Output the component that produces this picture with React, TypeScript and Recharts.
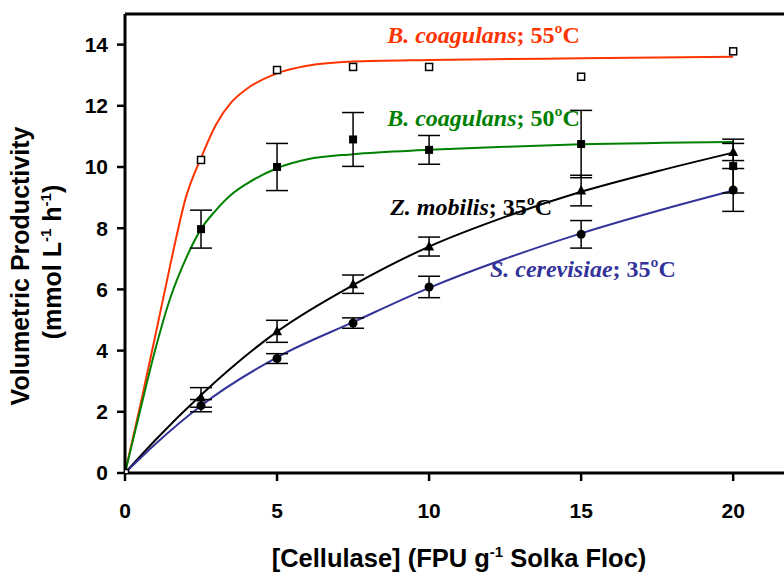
import React from 'react';
import { ComposedChart, Line, Scatter, XAxis, YAxis, ErrorBar, ReferenceLine, ReferenceDot } from 'recharts';

// Measured points
const xPoints = [0, 2.5, 5, 7.5, 10, 15, 20];
const bc55 = [0, 10.23, 13.17, 13.27, 13.27, 12.95, 13.78];
const bc50 = [0, 7.97, 10.0, 10.9, 10.56, 10.75, 10.03];
const bc50Err = [0, 0.62, 0.77, 0.88, 0.47, 1.1, 0.88];
const zm = [0, 2.47, 4.63, 6.17, 7.4, 9.23, 10.49];
const zmErr = [0, 0.32, 0.36, 0.3, 0.31, 0.5, 0.28];
const sc = [0, 2.2, 3.74, 4.9, 6.08, 7.8, 9.25];
const scErr = [0, 0.2, 0.16, 0.17, 0.35, 0.45, 0.7];

// Fitted curves
const fit55X = [0, 0.5, 1, 1.5, 2, 2.5, 3, 3.5, 4, 5, 6, 7.5, 10, 15, 20];
const fit55Y = [0, 2.2, 4.5, 6.85, 9.0, 10.3, 11.4, 12.12, 12.55, 13.06, 13.31, 13.45, 13.5, 13.55, 13.6];
const fit50X = [0, 0.5, 1, 1.5, 2, 2.5, 3, 3.5, 4, 5, 6, 7.5, 10, 12.5, 15, 20];
const fit50Y = [0, 2.05, 4.05, 5.75, 7.0, 7.97, 8.6, 9.1, 9.45, 9.96, 10.25, 10.42, 10.56, 10.66, 10.74, 10.82];
const fitZmX = [0, 1, 2.5, 5, 7.5, 10, 12.5, 15, 17.5, 20];
const fitZmY = [0, 1.08, 2.55, 4.62, 6.14, 7.4, 8.37, 9.19, 9.86, 10.47];
const fitScX = [0, 1, 2.5, 5, 7.5, 10, 12.5, 15, 17.5, 20];
const fitScY = [0, 0.95, 2.2, 3.78, 4.93, 6.05, 7.0, 7.83, 8.56, 9.23];

const xTicks = [0, 5, 10, 15, 20];
const yTicks = [0, 2, 4, 6, 8, 10, 12, 14];

const RED = '#FF3300';
const GREEN = '#008000';
const BLUE = '#333399';
const BLACK = '#000000';

const seriesLabels = [
  { x: 8.62, y: 14.04, italic: 'B. coagulans', rest: '; 55ºC', color: RED },
  { x: 8.62, y: 11.34, italic: 'B. coagulans', rest: '; 50ºC', color: GREEN },
  { x: 8.72, y: 8.43, italic: 'Z. mobilis', rest: '; 35ºC', color: BLACK },
  { x: 12.0, y: 6.4, italic: 'S. cerevisiae', rest: '; 35ºC', color: BLUE },
];

const pts = (ys: number[], errs?: number[]) =>
  xPoints.map((x, i) => ({ x, y: ys[i], err: errs ? errs[i] : 0 }));
const curve = (xs: number[], ys: number[]) => xs.map((x, i) => ({ x, y: ys[i] }));

const SANS = '"Liberation Sans", Arial, sans-serif';
const SERIF = '"Liberation Serif", "Times New Roman", serif';

const OpenSquare = (p: any) => (
  <rect x={p.cx - 3.5} y={p.cy - 3.5} width={7} height={7} fill="#fff" stroke="#000" strokeWidth={1.5} />
);
const FilledSquare = (p: any) => (
  <rect x={p.cx - 4} y={p.cy - 4} width={8} height={8} fill="#000" />
);
const Triangle = (p: any) => (
  <polygon points={`${p.cx},${p.cy - 5.5} ${p.cx - 5},${p.cy + 4} ${p.cx + 5},${p.cy + 4}`} fill="#000" />
);
const Circle = (p: any) => <circle cx={p.cx} cy={p.cy} r={4.5} fill="#000" />;

const XTitle = (props: any) => {
  const vb = props.viewBox;
  const cx = vb.x + 334;
  return (
    <text x={cx} y={567} textAnchor="middle" fontFamily={SANS} fontWeight="bold" fontSize={25.5} fill="#000">
      <tspan>[Cellulase] (FPU g</tspan>
      <tspan dy={-10} fontSize={15}>-1</tspan>
      <tspan dy={10}> Solka Floc)</tspan>
    </text>
  );
};

const YTitle = () => (
  <g>
    <text transform="translate(29,266) rotate(-90)" textAnchor="middle" fontFamily={SANS} fontWeight="bold" fontSize={25} fill="#000">
      Volumetric Productivity
    </text>
    <text transform="translate(61,262) rotate(-90)" textAnchor="middle" fontFamily={SANS} fontWeight="bold" fontSize={25} fill="#000">
      <tspan>(mmol L</tspan>
      <tspan dy={-10} fontSize={15}>-1</tspan>
      <tspan dy={10}> h</tspan>
      <tspan dy={-10} fontSize={15}>-1</tspan>
      <tspan dy={10}>)</tspan>
    </text>
  </g>
);

export default function App() {
  const tickStyle = { fill: '#000', fontSize: 21, fontWeight: 'bold', fontFamily: SANS };
  return (
    <div style={{ position: 'fixed', left: 0, top: 0, width: 784, height: 576, overflow: 'hidden', background: '#fff' }}>
      <ComposedChart width={900} height={576} margin={{ top: 14, right: 106, bottom: 0, left: 0 }}>
        <XAxis
          dataKey="x"
          type="number"
          domain={[0, 22]}
          ticks={xTicks}
          height={103}
          axisLine={{ stroke: '#000', strokeWidth: 3 }}
          tickLine={{ stroke: '#000', strokeWidth: 2.5 }}
          tickSize={8}
          tickMargin={22}
          tick={tickStyle}
          allowDataOverflow
          label={{ content: XTitle }}
        />
        <YAxis
          dataKey="y"
          type="number"
          domain={[0, 15]}
          ticks={yTicks}
          width={125}
          axisLine={{ stroke: '#000', strokeWidth: 3 }}
          tickLine={{ stroke: '#000', strokeWidth: 2.5 }}
          tickSize={8}
          tickMargin={9}
          tick={tickStyle}
          allowDataOverflow
          label={{ content: YTitle }}
        />
        <ReferenceLine y={15} stroke="#000" strokeWidth={3} />
        <Line data={curve(fit55X, fit55Y)} dataKey="y" type="monotone" stroke={RED} strokeWidth={2} dot={false} isAnimationActive={false} />
        <Line data={curve(fit50X, fit50Y)} dataKey="y" type="monotone" stroke={GREEN} strokeWidth={2} dot={false} isAnimationActive={false} />
        <Line data={curve(fitZmX, fitZmY)} dataKey="y" type="monotone" stroke={BLACK} strokeWidth={2} dot={false} isAnimationActive={false} />
        <Line data={curve(fitScX, fitScY)} dataKey="y" type="monotone" stroke={BLUE} strokeWidth={2} dot={false} isAnimationActive={false} />
        <Scatter data={pts(bc50, bc50Err)} dataKey="y" shape={FilledSquare} isAnimationActive={false}>
          <ErrorBar dataKey="err" direction="y" width={11} stroke="#000" strokeWidth={1.5} />
        </Scatter>
        <Scatter data={pts(zm, zmErr)} dataKey="y" shape={Triangle} isAnimationActive={false}>
          <ErrorBar dataKey="err" direction="y" width={11} stroke="#000" strokeWidth={1.5} />
        </Scatter>
        <Scatter data={pts(sc, scErr)} dataKey="y" shape={Circle} isAnimationActive={false}>
          <ErrorBar dataKey="err" direction="y" width={11} stroke="#000" strokeWidth={1.5} />
        </Scatter>
        <Scatter data={pts(bc55)} dataKey="y" shape={OpenSquare} isAnimationActive={false} />
        {seriesLabels.map((l, i) => (
          <ReferenceDot
            key={i}
            x={l.x}
            y={l.y}
            r={1}
            shape={(p: any) => (
              <text x={p.cx} y={p.cy} fontFamily={SERIF} fontWeight="bold" fontSize={24} fill={l.color}>
                <tspan fontStyle="italic">{l.italic}</tspan>
                <tspan>{l.rest}</tspan>
              </text>
            )}
          />
        ))}
      </ComposedChart>
    </div>
  );
}
